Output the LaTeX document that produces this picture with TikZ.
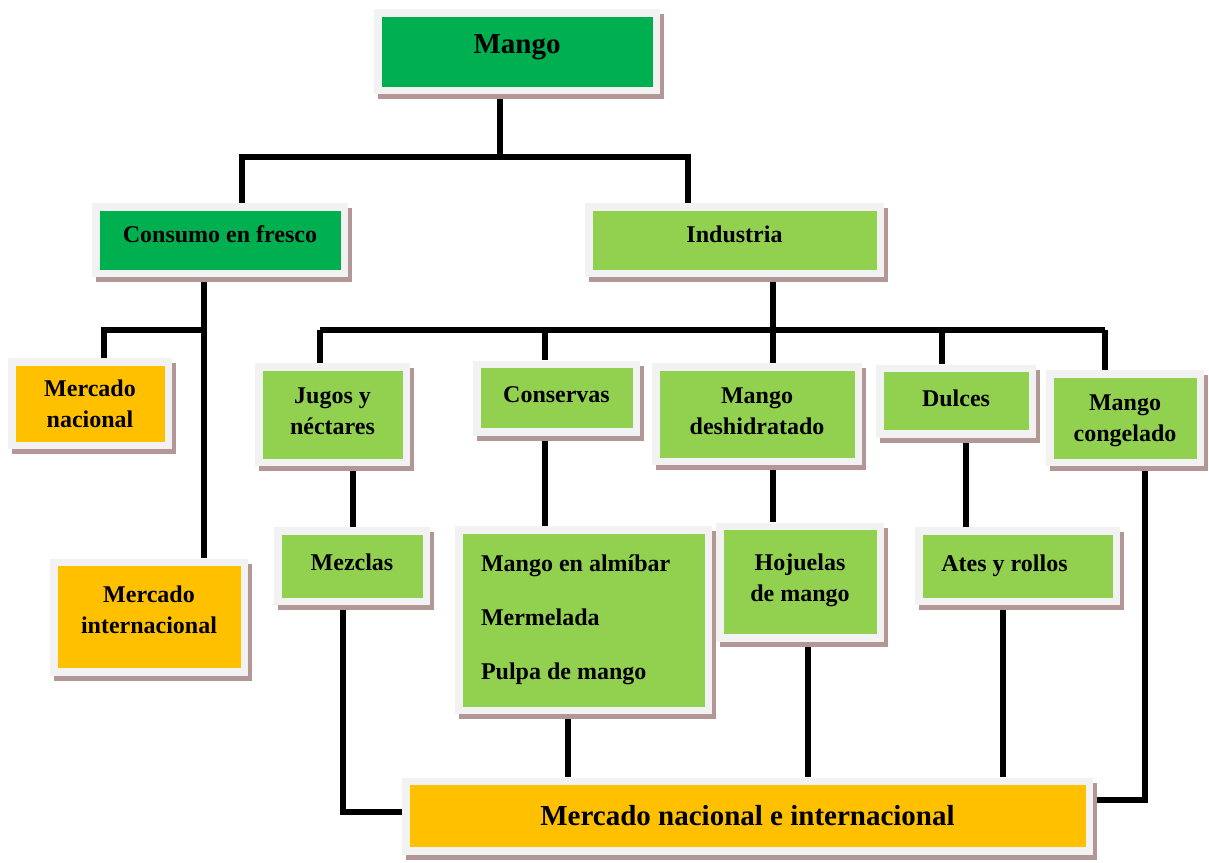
\documentclass[tikz,border=0pt]{standalone}
\usepackage{fontspec}
\setmainfont{Liberation Serif}
\usetikzlibrary{shadows,backgrounds}
\definecolor{verdeosc}{HTML}{00B050}
\definecolor{verdecla}{HTML}{92D050}
\definecolor{naranja}{HTML}{FFC000}
\definecolor{marco}{HTML}{F2F2F2}
\definecolor{sombra}{HTML}{B39797}

\begin{document}
\begin{tikzpicture}[x=0.5pt, y=-0.5pt,
  caja/.style = {fill=marco, inner sep=0pt, align=center,
    font=\bfseries\fontsize{12}{15.5}\selectfont,
    drop shadow={shadow xshift=2pt, shadow yshift=-2.5pt, fill=sombra, opacity=1},
    path picture={\fill[#1] ([shift={(3.75pt,3.75pt)}]path picture bounding box.south west)
      rectangle ([shift={(-3.75pt,-3.75pt)}]path picture bounding box.north east);}},
  tam/.style 2 args = {minimum width=#1*0.5pt, minimum height=#2*0.5pt},
  linea/.style = {line width=2.8pt}]
\useasboundingbox (0,0) rectangle (1209,862);
\node[caja=verdeosc, tam={286}{85}, text depth=7pt, font=\bfseries\fontsize{14.5}{18}\selectfont] (mango) at (517,51.5) {Mango};
\node[caja=verdeosc, tam={256}{74}, text depth=6pt] (consumo) at (220,240) {Consumo en fresco};
\node[caja=verdecla, tam={299}{74}, text depth=6pt] (industria) at (734.5,240) {Industria};
\node[caja=naranja, tam={164}{91}] (mnac) at (90,403.5) {Mercado\\nacional};
\node[caja=naranja, tam={198}{117}, text depth=7pt] (minter) at (149,617) {Mercado\\internacional};
\node[caja=verdecla, tam={155}{103}, text depth=3pt] (jugos) at (332.5,414.5) {Jugos y\\néctares};
\node[caja=verdecla, tam={167}{75}, text depth=3pt] (conservas) at (556.5,398) {Conservas};
\node[caja=verdecla, tam={210}{102}, text depth=3pt] (deshid) at (757,414) {Mango\\deshidratado};
\node[caja=verdecla, tam={160}{73}, text depth=3pt] (dulces) at (956,401) {Dulces};
\node[caja=verdecla, tam={158}{96}, text depth=0pt] (congelado) at (1125,418) {Mango\\congelado};
\node[caja=verdecla, tam={156}{78}, text depth=4pt] (mezclas) at (352,566) {Mezclas};
\node[caja=verdecla, tam={257}{188}, text width=102.5pt, align=flush left] (lista) at (583.5,620) {Mango en almíbar\\[11.5pt]Mermelada\\[11.5pt]Pulpa de mango};
\node[caja=verdecla, tam={168}{119}, text depth=4.6pt] (hojuelas) at (800,582) {Hojuelas\\de mango};
\node[caja=verdecla, tam={205}{78}, text depth=3pt] (ates) at (1017.5,566) {Ates y rollos\hspace{13pt}};
\node[caja=naranja, tam={691}{77}, font=\bfseries\fontsize{14.5}{18}\selectfont] (final) at (747.5,816) {Mercado nacional e internacional};
\begin{scope}[on background layer]
\coordinate (r0) at (500,157);
\coordinate (rL) at (242,157);
\coordinate (rR) at (688,157);
\draw[linea] (r0 |- mango.south) -- (r0);
\draw[linea] (rL |- consumo.north) -- (rL) -- (rR) -- (rR |- industria.north);
\coordinate (c1) at (204,330);
\coordinate (c2) at (104,330);
\draw[linea] (c1 |- consumo.south) -- (c1 |- minter.north);
\draw[linea] (c1) -- (c2) -- (c2 |- mnac.north);
\coordinate (i0) at (773,330);
\coordinate (iL) at (320,330);
\coordinate (iR) at (1105,330);
\draw[linea] (i0 |- industria.south) -- (i0);
\draw[linea] (iL) -- (iR);
\foreach \x/\n in {320/jugos, 545/conservas, 773/deshid, 942/dulces, 1105/congelado}{
  \coordinate (t) at (\x,330);
  \draw[linea] (t) -- (t |- \n.north);
}
\foreach \x/\a/\b in {353/jugos/mezclas, 545/conservas/lista, 773/deshid/hojuelas, 966/dulces/ates, 568/lista/final, 808/hojuelas/final, 1003/ates/final}{
  \coordinate (v) at (\x,0);
  \draw[linea] (v |- \a.south) -- (v |- \b.north);
}
\coordinate (m1) at (343,812);
\draw[linea] (m1 |- mezclas.south) -- (m1) -- (m1 -| final.west);
\coordinate (k1) at (1145,800);
\draw[linea] (k1 |- congelado.south) -- (k1) -- (k1 -| final.east);
\end{scope}
\end{tikzpicture}
\end{document}
